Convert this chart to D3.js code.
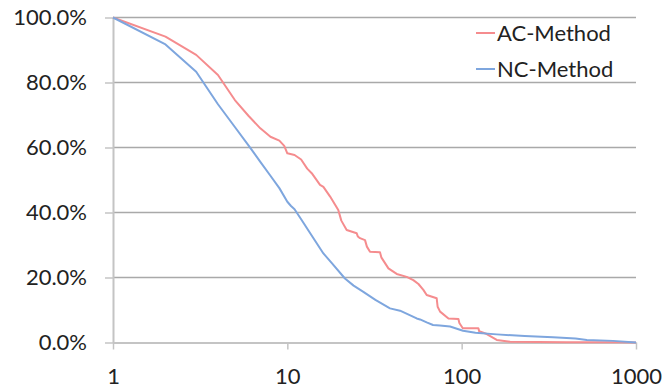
<!DOCTYPE html>
<html>
<head>
<meta charset="utf-8">
<script src="https://cdn.jsdelivr.net/npm/d3@7"></script>
<style>
  body { margin: 0; background: #fff; }
  svg { display: block; }
  text { font-family: Lato, "Open Sans", sans-serif; fill: #222; }
</style>
</head>
<body>
<div id="chart"></div>
<script>
// x = rank (log scale), y = share remaining
const acRank = [1, 2, 3, 4, 5, 6, 7, 8, 9, 9.6, 10, 11, 12, 13, 13.8, 15.4, 16.1, 17.6, 19.6, 20.4, 21.9, 25.0, 25.4, 26.1, 27.9, 28.6, 29.8, 34.0, 34.6, 38.0, 42.4, 48.4, 52.8, 56.5, 60.3, 63.0, 71.9, 72.8, 75.2, 84.0, 95.8, 97, 101.5, 124.7, 126, 139.3, 158.9, 189.5, 400, 800, 1000];
const acShare = [1.0, 0.941, 0.885, 0.823, 0.746, 0.697, 0.659, 0.633, 0.621, 0.605, 0.582, 0.577, 0.563, 0.535, 0.521, 0.485, 0.479, 0.449, 0.408, 0.375, 0.346, 0.336, 0.326, 0.321, 0.315, 0.295, 0.279, 0.278, 0.262, 0.228, 0.211, 0.202, 0.192, 0.180, 0.162, 0.146, 0.136, 0.110, 0.095, 0.074, 0.072, 0.060, 0.044, 0.044, 0.035, 0.026, 0.008, 0.002, 0.001, 0.001, 0.0];

const ncRank = [1, 2, 3, 4, 5, 6, 7, 8, 9, 10, 10.5, 11, 12, 14, 16.1, 18, 21.4, 24, 27.3, 32, 38.8, 44.3, 50, 55.2, 57.7, 63, 68.5, 75, 85.8, 101.8, 120, 159, 230, 334, 450, 522, 739, 1000];
const ncShare = [1.0, 0.917, 0.833, 0.733, 0.663, 0.606, 0.556, 0.513, 0.475, 0.433, 0.420, 0.410, 0.379, 0.324, 0.274, 0.244, 0.197, 0.175, 0.156, 0.131, 0.105, 0.098, 0.085, 0.074, 0.071, 0.062, 0.054, 0.052, 0.049, 0.036, 0.030, 0.025, 0.020, 0.016, 0.012, 0.008, 0.005, 0.0];

const xTicks = [1, 10, 100, 1000];
const yTicks = [0, 0.2, 0.4, 0.6, 0.8, 1.0];

const seriesNames = ["AC-Method", "NC-Method"];
const seriesColors = ["#f58c8e", "#7ea6de"];

const width = 668, height = 390;
const margin = { top: 17.5, right: 32, bottom: 47.5, left: 113 };

const svg = d3.select("#chart").append("svg")
  .attr("width", width)
  .attr("height", height);

const x = d3.scaleLog()
  .domain([1, 1000])
  .range([margin.left, width - margin.right]);

const y = d3.scaleLinear()
  .domain([0, 1])
  .range([height - margin.bottom, margin.top]);

// horizontal gridlines
svg.append("g")
  .selectAll("line")
  .data(yTicks.filter(d => d > 0))
  .join("line")
  .attr("x1", x(1))
  .attr("x2", x(1000))
  .attr("y1", d => y(d))
  .attr("y2", d => y(d))
  .attr("stroke", "#a9a9a9")
  .attr("stroke-width", 1.3);

// y axis
const yAxis = svg.append("g")
  .attr("transform", `translate(${x(1)},0)`)
  .call(d3.axisLeft(y)
    .tickValues(yTicks)
    .tickFormat(d3.format(".1%"))
    .tickSize(8)
    .tickSizeOuter(0)
    .tickPadding(18));
yAxis.select(".domain").attr("stroke", "#c4c4c4").attr("stroke-width", 2);
yAxis.selectAll(".tick line").attr("stroke", "#c4c4c4").attr("stroke-width", 1.5);
yAxis.selectAll("text").style("font-size", "22px").attr("fill", "#222");

// x axis
const xAxis = svg.append("g")
  .attr("transform", `translate(0,${y(0)})`)
  .call(d3.axisBottom(x)
    .tickValues(xTicks)
    .tickFormat(d3.format("d"))
    .tickSize(7)
    .tickSizeOuter(0)
    .tickPadding(19));
xAxis.select(".domain").attr("stroke", "#c4c4c4").attr("stroke-width", 2);
xAxis.selectAll(".tick line").attr("stroke", "#c4c4c4").attr("stroke-width", 1.5);
xAxis.selectAll("text").style("font-size", "22px").attr("fill", "#222");

const line = d3.line()
  .x(d => x(d[0]))
  .y(d => y(d[1]));

const series = [
  d3.zip(acRank, acShare),
  d3.zip(ncRank, ncShare)
];

svg.append("g")
  .selectAll("path")
  .data(series)
  .join("path")
  .attr("d", line)
  .attr("fill", "none")
  .attr("stroke", (d, i) => seriesColors[i])
  .attr("stroke-width", 2)
  .attr("stroke-linejoin", "round");

// legend
const legend = svg.append("g")
  .selectAll("g")
  .data(seriesNames)
  .join("g")
  .attr("transform", (d, i) => `translate(476,${33 + i * 36})`);

legend.append("line")
  .attr("x1", 0).attr("x2", 19)
  .attr("stroke", (d, i) => seriesColors[i])
  .attr("stroke-width", 2);

legend.append("text")
  .attr("x", 21)
  .attr("dy", "0.36em")
  .style("font-size", "22px")
  .text(d => d);
</script>
</body>
</html>
